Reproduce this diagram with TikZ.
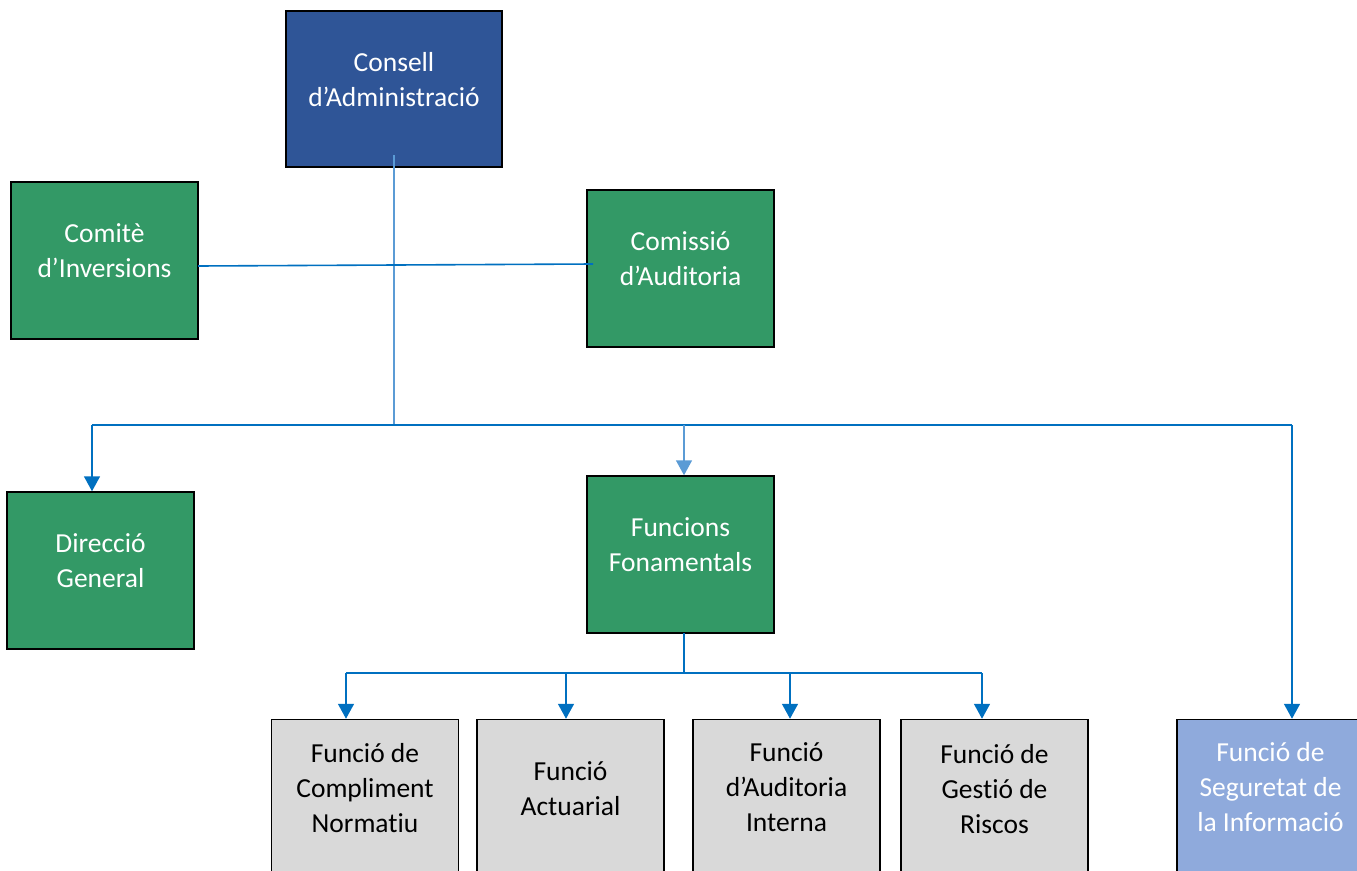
\documentclass[tikz,border=0pt]{standalone}
\usepackage{fontspec}
\setmainfont{Carlito}[Ligatures=NoCommon]
\usetikzlibrary{arrows.meta,calc}
\definecolor{navy}{HTML}{2F5597}
\definecolor{grn}{HTML}{339966}
\definecolor{gry}{HTML}{D9D9D9}
\definecolor{lblue}{HTML}{8FAADC}
\definecolor{ln}{HTML}{0070C0}
\definecolor{lnl}{HTML}{5B9BD5}
\tikzset{
  box/.style={draw=black, line width=1.5pt, minimum width=187pt, minimum height=157pt, inner sep=0pt},
  bluebox/.style={box, fill=navy, minimum width=216pt, minimum height=156pt},
  greenbox/.style={box, fill=grn},
  graybox/.style={box, fill=gry},
  secbox/.style={box, fill=lblue},
  txt/.style={align=center, inner sep=0pt, font=\fontsize{27.5}{35}\selectfont},
  wtxt/.style={txt, text=white},
  btxt/.style={txt, text=black},
  conn/.style={draw=ln, line width=1.6pt},
  connl/.style={draw=lnl, line width=1.6pt},
  arr/.style={-{Triangle[width=16pt,length=15pt]}}
}
\begin{document}
\begin{tikzpicture}[x=1pt,y=-1pt]
\useasboundingbox (0,0) rectangle (1357,870);
\clip (0,0) rectangle (1357,870);
\node[bluebox] (cons) at (394,89) {};
\node[greenbox] (comite) at (104.5,260.5) {};
\node[greenbox] (comis) at (680.5,268.5) {};
\node[greenbox] (dir) at (100.5,570.5) {};
\node[greenbox] (fun) at (680.5,554.5) {};
\node[graybox] (f1) at (365,798) {};
\node[graybox] (f2) at (570.5,798) {};
\node[graybox] (f3) at (786.5,798) {};
\node[graybox] (f4) at (994.5,798) {};
\node[secbox] (f5) at (1270.5,798) {};
% texts
\node[wtxt] (cons-t) at ($(cons.center)+(0,-9.5)$) {Consell\\d’Administració};
\node[wtxt] (comite-t) at ($(comite.center)+(0,-10)$) {Comitè\\d’Inversions};
\node[wtxt] (comis-t) at ($(comis.center)+(0,-10)$) {Comissió\\d’Auditoria};
\node[wtxt] (dir-t) at ($(dir.center)+(0,-10)$) {Direcció\\General};
\node[wtxt] (fun-t) at ($(fun.center)+(0,-10)$) {Funcions\\Fonamentals};
\node[btxt] (f1-t) at ($(f1.center)+(0,-9.5)$) {Funció de\\Compliment\\Normatiu};
\node[btxt] (f2-t) at ($(f2.center)+(0,-9.5)$) {Funció\\Actuarial};
\node[btxt] (f3-t) at ($(f3.center)+(0,-11)$) {Funció\\d’Auditoria\\Interna};
\node[btxt] (f4-t) at ($(f4.center)+(0,-9)$) {Funció de\\Gestió de\\Riscos};
\node[wtxt] (f5-t) at ($(f5.center)+(0,-11)$) {Funció de\\Seguretat de\\la Informació};
% main trunk
\coordinate (top) at (394,155);
\coordinate (hub) at (394,425);
\coordinate (bl) at (92,425);
\coordinate (bm) at (684,425);
\coordinate (br) at (1292,425);
\draw[connl] (top) -- (hub);
\draw[conn] (bl) -- (br);
\draw[conn,arr] (bl) -- (bl |- dir.north);
\draw[connl,arr] (bm) -- (bm |- fun.north);
\draw[conn,arr] (br) -- (br |- f5.north);
% committee line
\coordinate (cl) at (198,266);
\coordinate (cr) at (593,264);
\draw[conn] (cl) -- (cr);
% lower tree
\coordinate (fd) at (684,633);
\coordinate (fh) at (684,673);
\coordinate (c1) at (346,673);
\coordinate (c2) at (566,673);
\coordinate (c3) at (790,673);
\coordinate (c4) at (982,673);
\draw[conn] (fd) -- (fh);
\draw[conn] (c1) -- (c4);
\draw[conn,arr] (c1) -- (c1 |- f1.north);
\draw[conn,arr] (c2) -- (c2 |- f2.north);
\draw[conn,arr] (c3) -- (c3 |- f3.north);
\draw[conn,arr] (c4) -- (c4 |- f4.north);
\end{tikzpicture}
\end{document}
